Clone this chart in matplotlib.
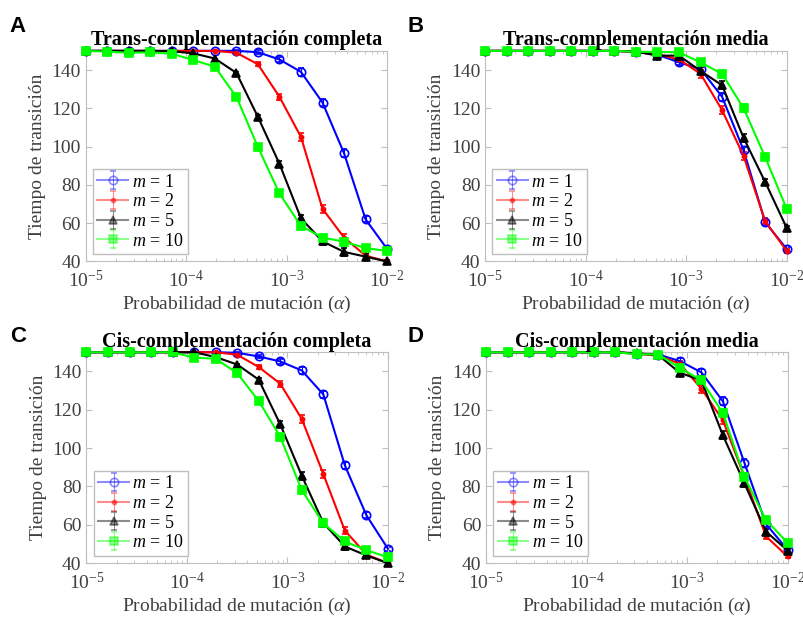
import matplotlib.pyplot as plt
import numpy as np
from matplotlib.lines import Line2D
from matplotlib.collections import LineCollection

plt.rcParams['font.family'] = ['Liberation Serif', 'DejaVu Serif']
plt.rcParams['mathtext.fontset'] = 'custom'
plt.rcParams['mathtext.it'] = 'Liberation Serif:italic'
plt.rcParams['mathtext.rm'] = 'Liberation Serif'

# probabilidad de mutacion: 15 puntos de 1e-5 a 1e-2
alpha = np.logspace(-5, -2, 15)
m_values = [1, 2, 5, 10]

# A: Trans-complementacion completa
trans_completa = {
    1: [150, 150, 150, 150, 150, 150, 150, 150, 149.3, 145.5, 139, 123, 96.5, 62, 46.5],
    2: [150, 150, 150, 150, 150, 150, 150, 149, 143, 126, 105, 67.5, 52.5, 43, 40],
    5: [150, 150, 150, 150, 149.8, 148.7, 146, 138.5, 115.5, 91, 62.5, 50.5, 45, 42.5, 40],
    10: [150, 149.6, 149, 149.2, 148.5, 145.2, 141.7, 126, 99.8, 75.5, 58.5, 52.5, 50.3, 47, 45.5],
}
# B: Trans-complementacion media
trans_media = {
    1: [150, 150, 150, 150, 150, 150, 150, 149.4, 148, 144, 140.5, 126, 98, 60.5, 46.5],
    2: [150, 150, 150, 150, 150, 150, 150, 149.4, 148.2, 145.5, 138, 119, 95, 61, 45.5],
    5: [150, 150, 150, 150, 150, 150, 150, 149.6, 147.5, 147.5, 139.5, 132, 104.5, 81.5, 57.5],
    10: [150, 150, 150, 150, 150, 150, 150, 149.5, 149.5, 149.2, 144, 138, 120, 94.5, 67.5],
}
# C: Cis-complementacion completa
cis_completa = {
    1: [150, 150, 150, 150, 150, 150, 150, 149.7, 147.8, 145.2, 140.5, 128, 91, 65, 47.5],
    2: [150, 150, 150, 150, 150, 150, 150, 148.7, 142.3, 133.6, 115.2, 86.5, 57, 44.5, 40],
    5: [150, 150, 150, 150, 150, 150, 147.5, 143.6, 135.7, 112.4, 85.6, 61, 48.7, 44, 40],
    10: [150, 150, 150, 150, 150, 147.2, 146.6, 139.1, 124.6, 105.9, 78.1, 60.8, 51.3, 46.8, 43],
}
# D: Cis-complementacion media
cis_media = {
    1: [150, 150, 150, 150, 150, 150, 150, 149.2, 148.8, 145.4, 139.5, 124.4, 92.3, 60.4, 47],
    2: [150, 150, 150, 150, 150, 150, 150, 149.2, 148.2, 144, 131, 114.5, 85, 54, 43.5],
    5: [150, 150, 150, 150, 150, 150, 150, 149.5, 148.5, 139.3, 135.3, 106.7, 81.6, 56.5, 46.6],
    10: [150, 150, 150, 150, 150, 150, 150, 149.0, 148.8, 141.9, 135.3, 118.3, 85, 62.5, 50.7],
}
# barras de error (aprox.)
err = [0, 0, 0, 0, 0, 0, 0, 0.5, 1, 1.5, 2, 2, 2, 1.5, 1]

titles = ['Trans-complementación completa', 'Trans-complementación media',
          'Cis-complementación completa', 'Cis-complementación media']
letters = ['A', 'B', 'C', 'D']
datasets = [trans_completa, trans_media, cis_completa, cis_media]

colors = {1: (0, 0, 1), 2: (1, 0, 0), 5: (0, 0, 0), 10: (0, 1, 0)}
markers = {1: 'o', 2: '.', 5: '^', 10: 's'}
mfcs = {1: 'none', 2: (1, 0, 0), 5: (0, 0, 0), 10: (0, 1, 0)}
msizes = {1: 6, 2: 6, 5: 6, 10: 5.5}

fig = plt.figure(figsize=(8.04, 6.24), dpi=100)
pos = [[0.1065, 0.581, 0.375, 0.3375], [0.6035, 0.581, 0.375, 0.3375],
       [0.1075, 0.0975, 0.375, 0.338], [0.6045, 0.0975, 0.375, 0.338]]
letter_pos = [(0.012, 0.975), (0.507, 0.975), (0.012, 0.478), (0.507, 0.478)]
spine_col = '#bfbfbf'
tick_col = '#404040'

for i, data in enumerate(datasets):
    ax = fig.add_axes(pos[i])
    for m in m_values:
        line, caps, bars = ax.errorbar(alpha, data[m], yerr=err, color=colors[m], marker=markers[m],
                                       mfc=mfcs[m], mec=colors[m], ms=msizes[m], lw=1.5, mew=1.2,
                                       capsize=2.5, elinewidth=0.8, label='$m$ = %d' % m)
        line.set_clip_on(False)
        line.set_zorder(3)
        for c in caps:
            c.set_clip_on(False)
        for b in bars:
            b.set_clip_on(False)
    ax.set_xscale('log')
    ax.set_xlim(1e-5, 1e-2)
    ax.set_ylim(40, 150)
    ax.set_yticks([40, 60, 80, 100, 120, 140])
    ax.set_xticks([1e-5, 1e-4, 1e-3, 1e-2])
    ax.tick_params(which='both', direction='in', top=True, right=True,
                   colors=spine_col, labelcolor=tick_col, labelsize=14)
    ax.tick_params(which='major', length=4)
    ax.tick_params(which='minor', length=2)
    ax.tick_params(axis='x', pad=6)
    for s in ax.spines.values():
        s.set_color(spine_col)
        s.set_linewidth(0.8)
    ax.set_title(titles[i], fontsize=14.5, fontweight='bold', pad=4)
    ax.set_xlabel('Probabilidad de mutación ($\\alpha$)', fontsize=14, color=tick_col, labelpad=2)
    ax.set_ylabel('Tiempo de transición', fontsize=14, color=tick_col, labelpad=4)
    leg = ax.legend(loc='lower left', fontsize=13, handlelength=1.7, handletextpad=0.2,
                    borderpad=0.25, labelspacing=0.15, borderaxespad=0.4,
                    fancybox=False, edgecolor=spine_col, framealpha=1)
    leg.set_zorder(5)
    for a in leg.findobj(lambda a: isinstance(a, (Line2D, LineCollection))):
        a.set_alpha(0.45)
    fig.text(letter_pos[i][0], letter_pos[i][1], letters[i], fontsize=16,
             fontweight='bold', family='Liberation Sans', va='top', ha='left')

fig.savefig('out.png', dpi=100)
